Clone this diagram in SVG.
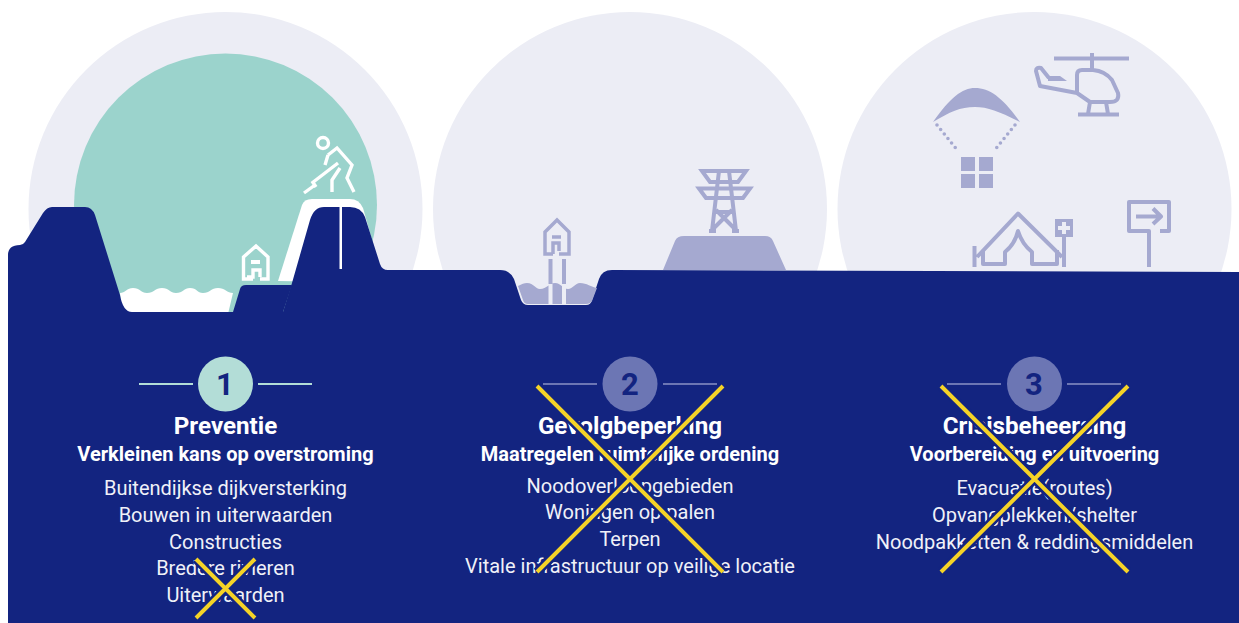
<svg xmlns="http://www.w3.org/2000/svg" width="1239" height="623" viewBox="0 0 1239 623">
<style>
text{font-family:Roboto,"Liberation Sans",sans-serif;text-anchor:middle;fill:#fff}
.t{font-size:24.2px;font-weight:700}
.s{font-size:20px;font-weight:700}
.b{font-size:20px;font-weight:400;fill:#f0f1f8}
.n{font-size:31px;font-weight:700;fill:#132480}
.bg{fill:#ecedf5}
.ic{fill:none;stroke:#a5a9d0;stroke-width:4;stroke-linejoin:round}
.icf{fill:#a5a9d0}
.w{fill:none;stroke:#fff;stroke-width:3.4}
.x{stroke:#f5d327;stroke-width:4;fill:none}
.h{stroke:#132480;stroke-width:9;fill:none}
.navy{fill:#132480}
</style>
<rect width="1239" height="623" fill="#fff"/>
<g id="circles">
<circle class="bg" cx="225.500" cy="209" r="197"/>
<circle class="bg" cx="630" cy="209" r="197"/>
<circle class="bg" cx="1034.500" cy="209" r="197"/>
<circle cx="225.500" cy="205" r="151.500" fill="#9bd3cc"/>
</g>
<g id="ground">
<path d="M120 293C125 293 127 288 133 288C140 288 141 293 147 293C154 293 155 288 162 288C169 288 170 293 176 293C183 293 184 288 190 288C197 288 197 293 203 293C210 293 211 288 218 288C225 288 227 293 233 293L228 314H122Z" fill="#fff"/>
<path d="M278 281L302 205Q304 199 312 199H350Q359 199 363 208L372 240L340 282Z" fill="#fff"/>
<path class="navy" d="M8 623V255Q8 245 20 245Q23 245 25 242L43 213Q47 207 52 207H85Q92 207 95 215L120 295Q123 312 132 312H283L292 283L310 220Q314 207 324 207H350Q361 207 365 217L380 264Q382 270 388 270H500Q510 270 514 279L521 300Q523 305 528 305H586Q591 305 592 300L599 279Q602 270 612 270L1239 272V623Z"/>
<path class="navy" d="M233 312L240 289Q241 285 246 285H292L283 312Z"/>
<rect x="339.500" y="207" width="2.500" height="62" fill="#fff"/>
<path d="M518 286C522 284 524 283 527 283C534 283 535 289 540 289C547 289 549 283 555 283C561 283 563 289 568 289C573 289 575 283 580 283C587 283 591 287 597 288L592 301Q590 304 586 304H528Q524 304 523 300Z" fill="#a5a9d0"/>
<path d="M663 270L675 241Q677 236 684 236H765Q771 236 773 241L786 270Z" fill="#a5a9d0"/>
</g>
<g id="icon-worker" class="w">
<circle cx="323" cy="143" r="5.500"/>
<path d="M328 155L337 148L352 165L347 178L354 192M340 168L332 180V192M328 155L325 165M338 163L312 183M312 181L316 187M315 185L304 193"/>
</g>
<g id="icon-house1" class="w">
<path d="M253 279H243.500V257L256 246L268 257V279H260M247 277H253V270H260V277"/>
<path d="M251 262H260" stroke-width="4"/>
</g>
<g id="icon-house2">
<path class="ic" d="M553 254H545V232L557 220L569 232V254H559M553 254V243H559V251M552 237H561" style="stroke-linejoin:miter;stroke-width:3.500"/>
<path class="ic" d="M550.500 259V284M564 259V284"/>
<path d="M550.500 284V305M564 284V305" stroke="#ecedf5" stroke-width="4" fill="none"/>
</g>
<g id="icon-pylon">
<path class="ic" style="stroke-linejoin:miter" d="M702 171H746L738 182H710ZM699 188.500H750L743 198H706ZM719 171L712 231M729 171L736 231M716 198H732M714 212H734M711 231L732 210M737 231L716 210M709 231H716M732 231H739"/>
</g>
<g id="icon-parachute">
<path class="icf" d="M933 122C950 98 962 88 975 88C990 88 1003 98 1020 122C1000 112 988 107 975 107C960 107 950 112 933 122Z"/>
<path d="M937 125L958 151M1015 125L994 151" fill="none" stroke="#a5a9d0" stroke-width="3.600" stroke-linecap="round" stroke-dasharray="0 5.800"/>
<rect class="icf" x="961" y="157" width="14" height="14"/><rect class="icf" x="979" y="157" width="14" height="14"/>
<rect class="icf" x="961" y="174" width="14" height="14"/><rect class="icf" x="979" y="174" width="14" height="14"/>
</g>
<g id="icon-helicopter">
<path class="ic" d="M1054 58.500H1129"/>
<path class="ic" d="M1092 53V70M1077 93V75Q1077 70 1082 70H1093Q1105 71 1112 80L1118 93Q1120 102 1110 102H1090L1077 93L1040 86L1036 71Q1036 67 1041 68L1049 78M1090 102L1088 114M1106 102L1108 114M1078 114.500H1119"/>
<path class="icf" d="M1048 76L1060 76L1067 81H1048Z"/>
</g>
<g id="icon-tent">
<path class="ic" d="M974.500 267V246M977 257L1018 213.500L1062 257M983 250V264H1005V252Q1015 244 1018 231Q1022 244 1032 252V264H1057V250M1064 237V267"/>
<rect class="icf" x="1055" y="219" width="18" height="18"/>
<path d="M1064 222V234M1058 228H1070" stroke="#ecedf5" stroke-width="4" fill="none"/>
</g>
<g id="icon-sign">
<path class="ic" d="M1149 267V231H1129V202H1169V231H1160M1136 216.500H1160M1153 208.500L1161 216.500L1153 224"/>
</g>
<g id="node-1">
<path d="M139 384H193M258 384H312" stroke="#b3ddd7" stroke-width="2" fill="none"/>
<circle cx="225.500" cy="384" r="27.500" fill="#b3ddd7"/>
<text class="n" x="225" y="395">1</text>
<text class="t" x="225.500" y="434">Preventie</text>
<text class="s" x="225.500" y="461">Verkleinen kans op overstroming</text>
<text class="b" x="225.500" y="495">Buitendijkse dijkversterking</text>
<text class="b" x="225.500" y="522">Bouwen in uiterwaarden</text>
<text class="b" x="225.500" y="549">Constructies</text>
<text class="b" x="225.500" y="575">Bredere rivieren</text>
<text class="b" x="225.500" y="602">Uiterwaarden</text>
</g>
<g id="node-2">
<path d="M543 384H597M663 384H717" stroke="#6c76b4" stroke-width="2" fill="none"/>
<circle cx="630" cy="384" r="27.500" fill="#6c76b4"/>
<text class="n" x="630" y="395">2</text>
<text class="t" x="630" y="434">Gevolgbeperking</text>
<text class="s" x="630" y="461">Maatregelen ruimtelijke ordening</text>
<text class="b" x="630" y="493">Noodoverloopgebieden</text>
<text class="b" x="630" y="519">Woningen op palen</text>
<text class="b" x="630" y="546">Terpen</text>
<text class="b" x="630" y="573">Vitale infrastructuur op veilige locatie</text>
</g>
<g id="node-3">
<path d="M947 384H1001M1067 384H1121" stroke="#6c76b4" stroke-width="2" fill="none"/>
<circle cx="1034.500" cy="384" r="27.500" fill="#6c76b4"/>
<text class="n" x="1034" y="395">3</text>
<text class="t" x="1034.500" y="434">Crisisbeheersing</text>
<text class="s" x="1034.500" y="461">Voorbereiding en uitvoering</text>
<text class="b" x="1034.500" y="495">Evacuatie(routes)</text>
<text class="b" x="1034.500" y="522">Opvangplekken/shelter</text>
<text class="b" x="1034.500" y="549">Noodpakketten &amp; reddingsmiddelen</text>
</g>
<g id="connectors">
<path class="h" d="M196 618L255 559M196 559L255 618"/>
<path class="h" d="M537 386L723 572M537 572L723 386"/>
<path class="h" d="M941 386L1128 572M941 572L1128 386"/>
<path class="x" d="M196 618L255 559M196 559L255 618"/>
<path class="x" d="M537 386L723 572M537 572L723 386"/>
<path class="x" d="M941 386L1128 572M941 572L1128 386"/>
</g>
</svg>
